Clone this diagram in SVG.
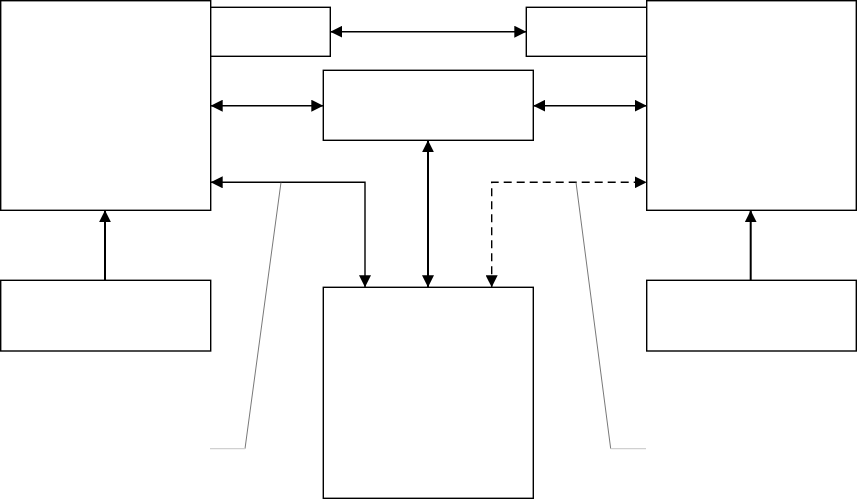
<svg xmlns="http://www.w3.org/2000/svg" width="857" height="499" viewBox="0 0 857 499">
<style>
.box{fill:#fff;stroke:#000;stroke-width:1.4}
.c{fill:none;stroke:#000;stroke-width:1.4}
.cv{fill:none;stroke:#000;stroke-width:2}
.dash{stroke-dasharray:8 5}
.lead{fill:none;stroke:#555;stroke-width:0.8}
.leadh{fill:none;stroke:#d0d0d0;stroke-width:1.2}
</style>
<defs>
<marker id="ah" markerUnits="userSpaceOnUse" markerWidth="13" markerHeight="12" refX="12" refY="6" orient="auto-start-reverse">
<path d="M0,0 L12,6 L0,12 Z" fill="#000"/>
</marker>
</defs>
<rect width="857" height="499" fill="#fff"/>
<g id="nodes">
<g id="left-main"><rect class="box" x="0.7" y="0.7" width="210" height="209.6"/></g>
<g id="top-left-small"><rect class="box" x="210.7" y="7.3" width="119.6" height="49"/></g>
<g id="top-right-small"><rect class="box" x="526.3" y="7.3" width="120.4" height="49"/></g>
<g id="right-main"><rect class="box" x="646.7" y="0.7" width="209.6" height="209.6"/></g>
<g id="middle"><rect class="box" x="323.3" y="70.3" width="210" height="70"/></g>
<g id="bottom-center"><rect class="box" x="323.3" y="287.3" width="210" height="211"/></g>
<g id="bottom-left"><rect class="box" x="0.7" y="280.3" width="210" height="70.7"/></g>
<g id="bottom-right"><rect class="box" x="646.7" y="280.3" width="209.6" height="70.7"/></g>
</g>
<g id="connectors">
<line class="c" x1="330.3" y1="31.7" x2="526.3" y2="31.7" marker-start="url(#ah)" marker-end="url(#ah)"/>
<line class="c" x1="210.7" y1="105.7" x2="323.3" y2="105.7" marker-start="url(#ah)" marker-end="url(#ah)"/>
<line class="c" x1="533.3" y1="105.7" x2="646.7" y2="105.7" marker-start="url(#ah)" marker-end="url(#ah)"/>
<polyline class="c" points="210.7,182.3 365,182.3 365,287.3" marker-start="url(#ah)" marker-end="url(#ah)"/>
<line class="cv" x1="428" y1="140.3" x2="428" y2="287.3" marker-start="url(#ah)" marker-end="url(#ah)"/>
<polyline class="c dash" points="491.7,287.3 491.7,182.3 646.7,182.3" marker-start="url(#ah)" marker-end="url(#ah)"/>
<line class="cv" x1="105" y1="280.3" x2="105" y2="210.3" marker-end="url(#ah)"/>
<line class="cv" x1="750.7" y1="280.3" x2="750.7" y2="210.3" marker-end="url(#ah)"/>
<polyline class="lead" points="281,182.3 245,448.7"/>
<line class="leadh" x1="210" y1="448.7" x2="245" y2="448.7"/>
<polyline class="lead" points="576,182.3 610.7,448.7"/>
<line class="leadh" x1="610.7" y1="448.7" x2="646" y2="448.7"/>
</g>
</svg>
